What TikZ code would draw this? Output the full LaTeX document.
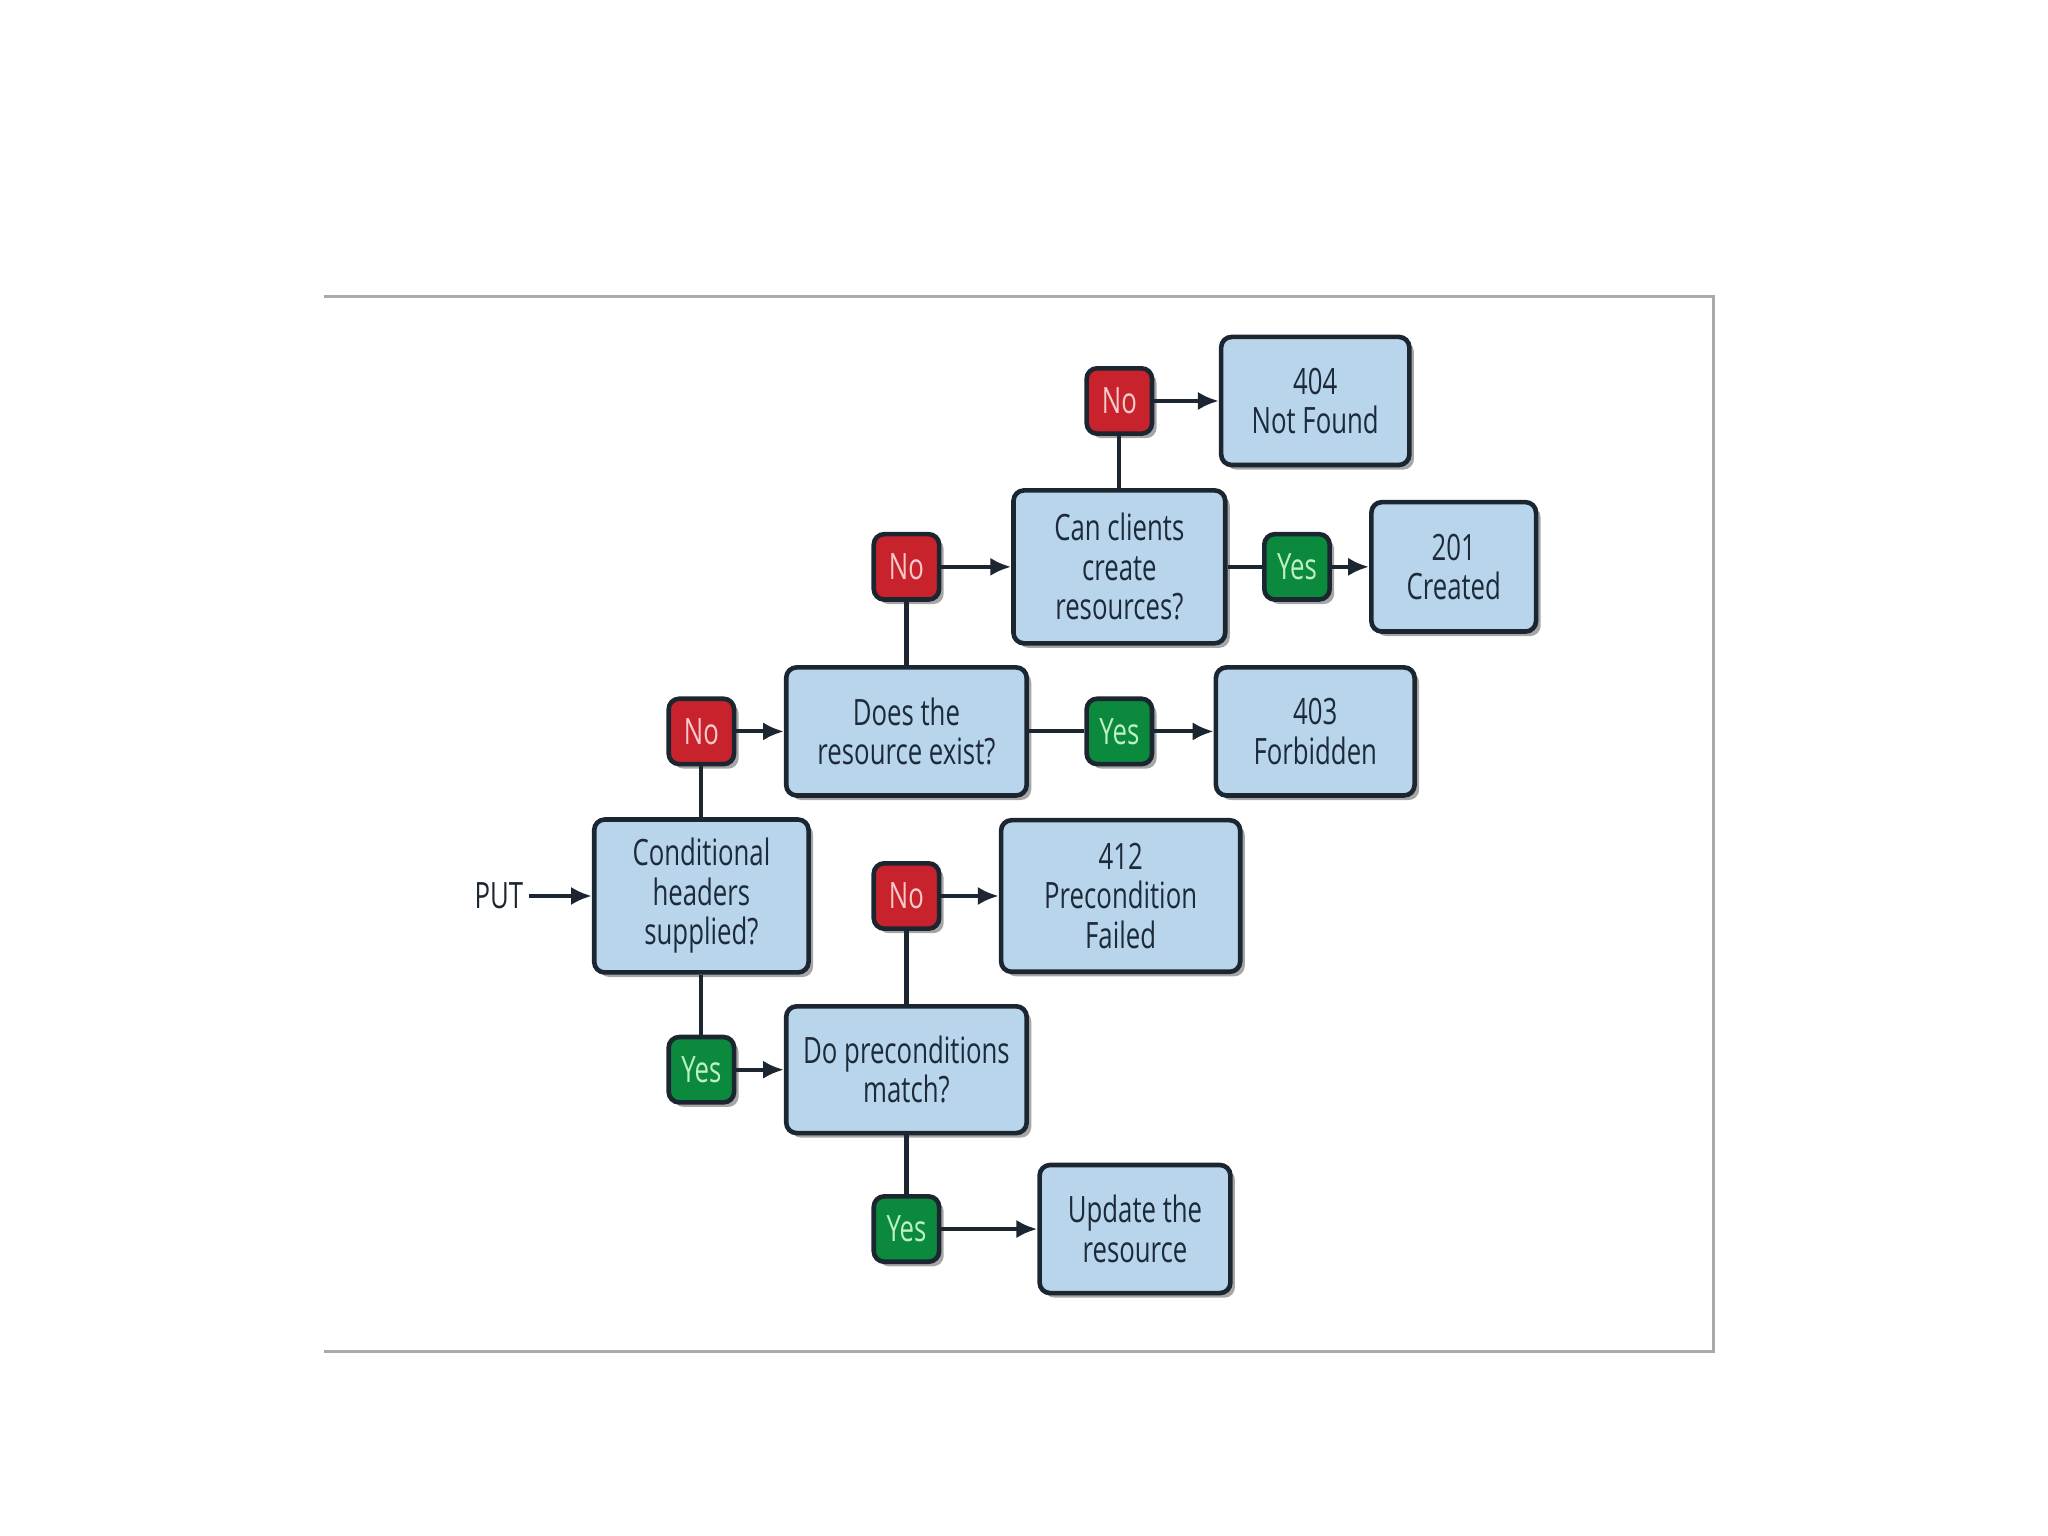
\documentclass[tikz,border=0pt]{standalone}
\usepackage{fontspec}
\setmainfont[FakeStretch=0.71]{Open Sans}
\usetikzlibrary{arrows.meta,shadows}
\definecolor{boxfill}{HTML}{B9D5EB}
\definecolor{boxline}{HTML}{1B2631}
\definecolor{txt}{HTML}{1C2A3A}
\definecolor{nored}{HTML}{C8232C}
\definecolor{notxt}{HTML}{F6CACA}
\definecolor{yesgreen}{HTML}{0B8A3E}
\definecolor{yestxt}{HTML}{BDF2BF}
\definecolor{framegray}{HTML}{AAAAAA}
\tikzset{
  base/.style={draw=boxline, line width=1pt, rounded corners=0.08cm, align=center,
    inner sep=0pt, font=\fontsize{7.9}{8.6}\selectfont,
    drop shadow={shadow xshift=0.035cm, shadow yshift=-0.035cm, fill=black, opacity=0.35}},
  bigbox/.style={base, fill=boxfill, text=txt},
  nobox/.style={base, fill=nored, text=notxt, minimum width=0.5cm, minimum height=0.5cm},
  yesbox/.style={base, fill=yesgreen, text=yestxt, minimum width=0.5cm, minimum height=0.5cm},
  link/.style={draw=boxline, line width=0.9pt},
  arr/.style={link, -{Latex[length=0.16cm,width=0.14cm]}}
}
\begin{document}
\begin{tikzpicture}[x=0.01cm,y=-0.01cm]
\useasboundingbox (0,0) rectangle (1568,1176);
% frame
\draw[framegray, line width=0.7pt] (248,227) -- (1312,227) -- (1312,1035) -- (248,1035);
% big boxes
\node[bigbox, minimum width=1.64cm, minimum height=1.17cm] (cond) at (537,686) {Conditional\\headers\\supplied?};
\node[bigbox, minimum width=1.84cm, minimum height=0.98cm] (does) at (694,560) {Does the\\resource exist?};
\node[bigbox, minimum width=1.62cm, minimum height=1.17cm] (can) at (857,434) {Can clients\\create\\resources?};
\node[bigbox, minimum width=1.44cm, minimum height=0.98cm] (nf) at (1007,307) {404\\Not Found};
\node[bigbox, minimum width=1.26cm, minimum height=0.99cm] (cr) at (1113,434) {201\\Created};
\node[bigbox, minimum width=1.52cm, minimum height=0.98cm] (fb) at (1007,560) {403\\Forbidden};
\node[bigbox, minimum width=1.83cm, minimum height=1.16cm] (pf) at (858,686) {412\\Precondition\\Failed};
\node[bigbox, minimum width=1.84cm, minimum height=0.97cm] (dp) at (694,819) {Do preconditions\\match?};
\node[bigbox, minimum width=1.46cm, minimum height=0.98cm] (up) at (869,941) {Update the\\resource};
% small boxes
\node[nobox] (no1) at (857,307) {No};
\node[nobox] (no2) at (694,434) {No};
\node[yesbox] (yes1) at (993,434) {Yes};
\node[nobox] (no3) at (537,560) {No};
\node[yesbox] (yes2) at (857,560) {Yes};
\node[nobox] (no4) at (694,686) {No};
\node[yesbox] (yes3) at (537,819) {Yes};
\node[yesbox] (yes4) at (694,941) {Yes};
% PUT
\node[font=\fontsize{7.9}{8.6}\selectfont, text=boxline, inner sep=1pt] (put) at (382,686) {PUT};
% connectors
\draw[arr] (put.east) -- (cond.west);
\draw[link] (cond.north) -- (no3.south);
\draw[arr] (no3.east) -- (does.west);
\draw[link] (does.north) -- (no2.south);
\draw[arr] (no2.east) -- (can.west);
\draw[link] (can.north) -- (no1.south);
\draw[arr] (no1.east) -- (nf.west);
\draw[link] (can.east) -- (yes1.west);
\draw[arr] (yes1.east) -- (cr.west);
\draw[link] (does.east) -- (yes2.west);
\draw[arr] (yes2.east) -- (fb.west);
\draw[link] (cond.south) -- (yes3.north);
\draw[arr] (yes3.east) -- (dp.west);
\draw[link] (dp.north) -- (no4.south);
\draw[arr] (no4.east) -- (pf.west);
\draw[link] (dp.south) -- (yes4.north);
\draw[arr] (yes4.east) -- (up.west);
\end{tikzpicture}
\end{document}
